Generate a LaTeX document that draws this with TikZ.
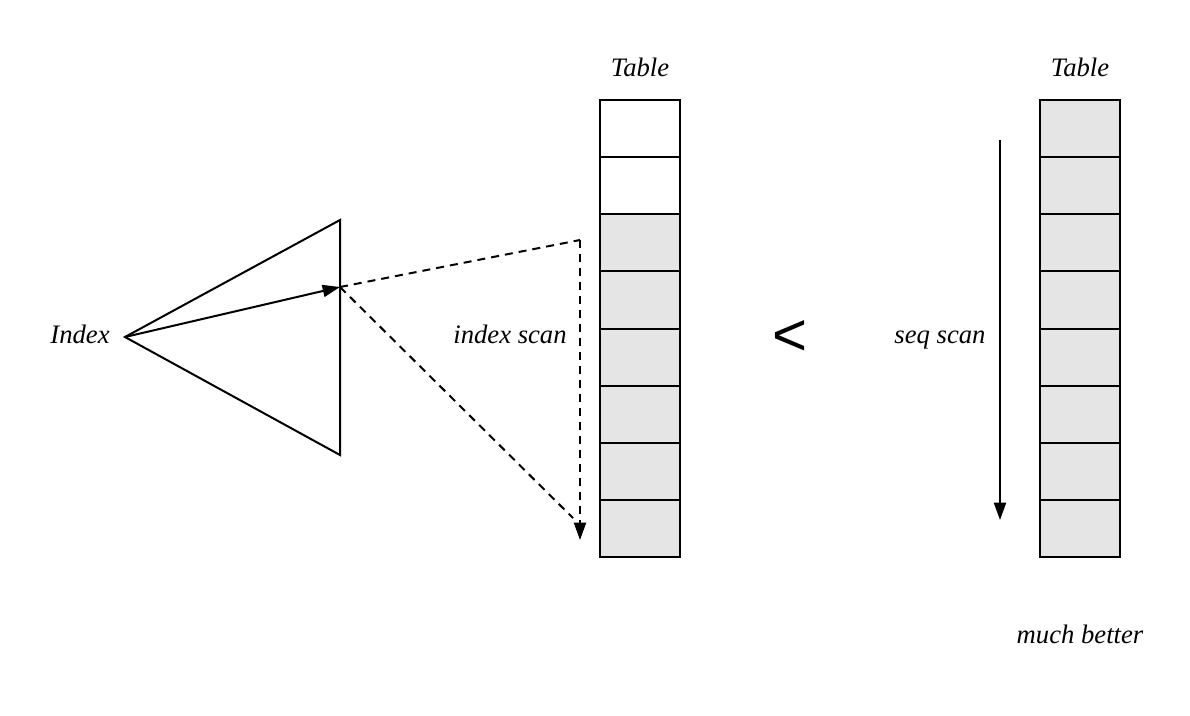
\documentclass[tikz,border=0pt]{standalone}
\usepackage{fontspec}
\setmainfont{Liberation Serif}
\newfontfamily\symfont{Liberation Sans}
\usetikzlibrary{arrows.meta}
\definecolor{rowgray}{HTML}{E5E5E5}
\tikzset{
    lbl/.style={font=\fontsize{20}{22}\selectfont\itshape, anchor=base, inner sep=0pt},
    tip/.style={-{Triangle[length=13pt,width=9pt]}},
    dash line/.style={dashed, dash pattern=on 6pt off 4.5pt},
}
\begin{document}
\begin{tikzpicture}[x=0.75pt,y=-0.75pt,line width=1.5pt]
        \useasboundingbox (0,0) rectangle (1190,715);

        % tables
        \foreach \r in {0,...,7} {
            \pgfmathsetmacro{\top}{100+57.125*\r}
            \ifnum\r<2
                \draw (600,\top) rectangle ++(80,57.125);
            \else
                \draw[fill=rowgray] (600,\top) rectangle ++(80,57.125);
            \fi
            \draw[fill=rowgray] (1040,\top) rectangle ++(80,57.125);
        }
        \node[lbl] (tabA) at (640,76) {Table};
        \node[lbl] (tabB) at (1080,76) {Table};

        % index
        \coordinate (apex) at (125,337);
        \coordinate (upper) at (340,220);
        \coordinate (lower) at (340,455);
        \coordinate (hit) at (340,287);
        \draw (apex) -- (upper) -- (lower) -- cycle;
        \draw[tip] (apex) -- (hit);
        \node[lbl] (idx) at (80,343) {Index};

        % index scan
        \coordinate (corner) at (580,240);
        \coordinate (bottom) at (580,540);
        \coordinate (diagend) at (573,518);
        \draw[dash line] (hit) -- (corner);
        \draw[dash line, tip] (corner) -- (bottom);
        \draw[dash line] (hit) -- (diagend);
        \node[lbl] (iscan) at (510,343) {index scan};

        \node[font=\symfont\fontsize{45}{50}\selectfont, inner sep=0pt] (lt) at (790,338) {<};

        % seq scan
        \coordinate (seqtop) at (1000,140);
        \coordinate (seqbot) at (1000,520);
        \draw[tip] (seqtop) -- (seqbot);
        \node[lbl] (sscan) at (940,343) {seq scan};
        \node[lbl] (better) at (1080,643) {much better};
    \end{tikzpicture}
\end{document}
